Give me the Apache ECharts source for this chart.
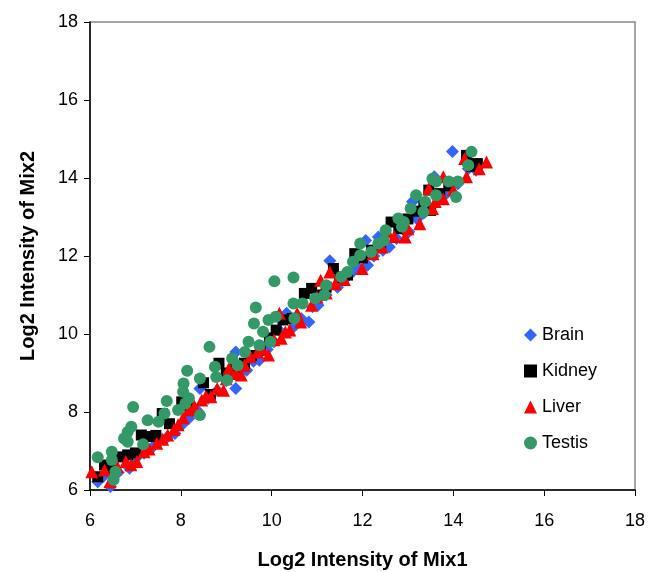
<!DOCTYPE html>
<html><head><meta charset="utf-8">
<script src="https://cdn.jsdelivr.net/npm/echarts@6/dist/echarts.min.js"></script>
<style>html,body{margin:0;padding:0;background:#fff}#c{width:652px;height:572px}</style>
</head><body><div id="c"></div>
<script>
const seriesNames = ['Brain','Kidney','Liver','Testis'];
const xTicks = [6,8,10,12,14,16,18];
const yTicks = [6,8,10,12,14,16,18];
const brain = [[6.17,6.21],[6.45,6.09],[6.3,6.35],[6.62,6.45],[6.87,6.56],[7.0,6.8],[7.19,6.94],[7.39,7.11],[7.55,7.3],[7.7,7.35],[7.87,7.45],[8.05,7.7],[8.18,7.84],[8.35,8.05],[8.42,8.6],[8.6,8.35],[8.8,8.55],[9.0,8.8],[9.21,8.6],[9.21,9.54],[9.3,9.0],[9.45,9.07],[9.6,9.3],[9.73,9.33],[9.9,9.6],[10.05,9.8],[10.2,10.05],[10.33,10.53],[10.5,10.2],[10.65,10.4],[10.82,10.31],[10.9,10.7],[11.02,10.74],[11.2,11.0],[11.28,11.88],[11.45,11.2],[11.6,11.4],[11.75,11.55],[11.9,11.7],[12.07,12.4],[12.11,11.76],[12.25,12.0],[12.35,12.49],[12.45,12.15],[12.59,12.23],[12.75,12.45],[12.9,12.7],[13.02,12.62],[13.1,13.39],[13.2,12.95],[13.35,13.1],[13.45,13.25],[13.58,14.03],[13.7,13.5],[13.85,13.6],[13.98,14.68],[14.1,13.85],[14.33,14.24],[14.5,14.2]];
const kidney = [[6.17,6.34],[6.32,6.64],[6.5,6.55],[6.67,6.85],[6.83,6.9],[7.0,6.95],[7.13,7.41],[7.31,7.37],[7.45,7.4],[7.59,7.96],[7.75,7.7],[8.02,8.26],[8.2,8.1],[8.5,8.75],[8.65,8.45],[8.84,9.25],[9.0,9.0],[9.2,9.15],[9.4,9.25],[9.55,9.45],[9.75,9.65],[9.95,9.9],[10.1,10.1],[10.25,10.36],[10.45,10.4],[10.72,11.04],[10.88,11.17],[11.05,11.0],[11.2,11.2],[11.36,11.68],[11.5,11.45],[11.67,11.51],[11.83,12.06],[12.0,11.95],[12.2,12.15],[12.4,12.3],[12.63,12.87],[12.8,12.7],[13.0,12.95],[13.2,13.15],[13.35,13.3],[13.46,13.69],[13.5,13.17],[13.7,13.6],[13.9,13.8],[14.29,14.58],[14.53,14.37],[14.4,14.3]];
const liver = [[6.04,6.47],[6.32,6.51],[6.44,6.21],[6.6,6.6],[6.79,6.73],[6.9,6.65],[7.03,6.73],[7.19,6.98],[7.3,7.05],[7.47,7.2],[7.6,7.3],[7.71,7.41],[7.85,7.55],[7.94,7.67],[8.05,7.85],[8.18,8.05],[8.3,8.15],[8.46,8.31],[8.55,8.4],[8.66,8.39],[8.8,8.6],[8.94,8.56],[9.0,8.85],[9.06,9.12],[9.21,8.99],[9.33,8.95],[9.4,9.2],[9.53,9.42],[9.69,9.54],[9.8,9.6],[9.93,9.46],[10.05,9.85],[10.17,10.53],[10.21,9.89],[10.3,10.05],[10.4,10.1],[10.56,10.53],[10.64,10.31],[10.88,10.74],[11.0,10.95],[11.08,11.38],[11.2,11.05],[11.28,11.59],[11.4,11.29],[11.6,11.4],[11.99,11.68],[12.23,12.06],[12.43,12.23],[12.55,12.62],[12.7,12.5],[12.94,12.49],[13.0,12.7],[13.26,12.83],[13.46,13.73],[13.54,13.22],[13.6,13.4],[13.78,14.03],[13.78,13.47],[14.0,13.7],[14.29,14.03],[14.25,14.5],[14.57,14.24],[14.73,14.41]];
const testis = [[6.17,6.84],[6.48,6.98],[6.48,6.77],[6.56,6.47],[6.52,6.26],[6.75,7.32],[6.83,7.49],[6.91,7.62],[6.95,8.13],[6.83,7.24],[7.17,7.17],[7.27,7.79],[7.51,7.75],[7.64,7.96],[7.69,8.28],[7.94,8.05],[8.06,8.73],[8.05,8.52],[8.14,9.06],[8.1,8.22],[8.18,8.35],[8.42,7.92],[8.42,8.86],[8.63,9.67],[8.78,8.9],[8.75,9.16],[9.02,8.82],[9.13,9.37],[9.25,9.2],[9.41,9.54],[9.49,9.8],[9.61,10.27],[9.65,10.68],[9.73,9.71],[9.81,10.06],[9.93,10.36],[9.97,9.8],[10.09,10.44],[10.06,11.35],[10.48,11.45],[10.5,10.4],[10.48,10.78],[10.68,10.78],[10.96,10.91],[11.2,11.25],[11.16,11.0],[11.53,11.47],[11.67,11.59],[11.79,11.85],[11.95,12.02],[11.95,12.32],[12.19,12.1],[12.35,12.32],[12.47,12.4],[12.51,12.66],[12.79,12.96],[12.87,12.75],[12.91,12.87],[13.06,13.22],[13.18,13.56],[13.34,13.13],[13.38,13.39],[13.54,13.98],[13.62,13.56],[13.62,13.91],[13.9,13.91],[14.06,13.51],[14.1,13.91],[14.33,14.33],[14.4,14.67]];

const font = 'Arial, "Liberation Sans", sans-serif';
const chart = echarts.init(document.getElementById('c'), null, {renderer:'canvas'});
const axisCommon = {
  type:'value', min:6, max:18, interval:2,
  axisLine:{show:true, onZero:false, lineStyle:{color:'#000', width:1.5}},
  axisTick:{show:true, inside:false, length:6, lineStyle:{color:'#000', width:1}},
  splitLine:{show:false},
  axisLabel:{color:'#000', fontSize:18, fontFamily:font},
  nameLocation:'middle',
  nameTextStyle:{color:'#000', fontSize:20, fontWeight:'bold', fontFamily:font}
};
chart.setOption({
  animation:false,
  backgroundColor:'#fff',
  grid:{left:90, right:17, top:22, bottom:82, show:true, borderColor:'#888', borderWidth:1.5, backgroundColor:'#fff', containLabel:false, outerBoundsMode:'none'},
  xAxis:Object.assign({}, axisCommon, {name:'Log2 Intensity of Mix1', nameGap:60, axisLabel:Object.assign({}, axisCommon.axisLabel, {margin:22})}),
  yAxis:Object.assign({}, axisCommon, {name:'Log2 Intensity of Mix2', nameGap:52, axisLabel:Object.assign({}, axisCommon.axisLabel, {margin:12})}),
  legend:{
    orient:'vertical', left:519, top:321, itemGap:18, itemWidth:13, itemHeight:13,
    textStyle:{color:'#000', fontSize:18, fontFamily:font},
    data:[
      {name:seriesNames[0], icon:'diamond'},
      {name:seriesNames[1], icon:'rect'},
      {name:seriesNames[2], icon:'triangle'},
      {name:seriesNames[3], icon:'circle'}
    ]
  },
  series:[
    {name:seriesNames[0], type:'scatter', data:brain, symbol:'diamond', symbolSize:13, itemStyle:{color:'#3366FF', opacity:1}},
    {name:seriesNames[1], type:'scatter', data:kidney, symbol:'rect', symbolSize:11, itemStyle:{color:'#000000', opacity:1}},
    {name:seriesNames[2], type:'scatter', data:liver, symbol:'triangle', symbolSize:13, itemStyle:{color:'#FF0000', opacity:1}},
    {name:seriesNames[3], type:'scatter', data:testis, symbol:'circle', symbolSize:12, itemStyle:{color:'#339966', opacity:1}}
  ]
});
</script></body></html>
